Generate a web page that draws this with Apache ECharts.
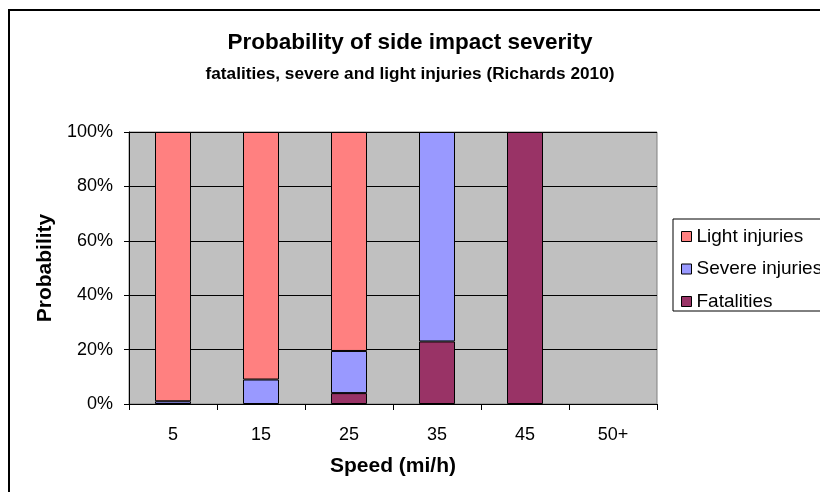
<!DOCTYPE html>
<html><head><meta charset="utf-8">
<script src="https://cdn.jsdelivr.net/npm/echarts@6/dist/echarts.min.js"></script>
<style>html,body{margin:0;padding:0;background:#fff}#c{width:820px;height:492px}</style>
</head><body><div id="c"></div>
<script>
const categories = ['5', '15', '25', '35', '45', '50+'];
const fatalities = [null, null, 4, 23, 100, null];
const severeInjuries = [1, 9, 15.5, 77, null, null];
const lightInjuries = [99, 91, 80.5, null, null, null];
const seriesNames = ['Light injuries', 'Severe injuries', 'Fatalities'];

const FONT = 'Liberation Sans, Arial, sans-serif';
const chart = echarts.init(document.getElementById('c'), null, {renderer: 'canvas'});
const barStyle = c => ({color: c, borderColor: '#000', borderWidth: 1});
chart.setOption({
  animation: false,
  backgroundColor: '#fff',
  textStyle: {fontFamily: FONT, color: '#000'},
  graphic: [{
    type: 'rect', shape: {x: 9, y: 10, width: 900, height: 600},
    style: {fill: 'none', stroke: '#000', lineWidth: 2}, silent: true
  }],
  title: [
    {text: 'Probability of side impact severity', left: 'center', top: 26,
     textStyle: {fontFamily: FONT, fontSize: 22.5, fontWeight: 'bold', color: '#000'}},
    {text: 'fatalities, severe and light injuries (Richards 2010)', left: 'center', top: 61,
     textStyle: {fontFamily: FONT, fontSize: 17.2, fontWeight: 'bold', color: '#000'}}
  ],
  legend: {
    orient: 'vertical', left: 673, top: 219,
    data: seriesNames,
    borderColor: '#000', borderWidth: 1,
    padding: [8, 40, 0, 8],
    itemWidth: 10, itemHeight: 10, itemGap: 13.5,
    icon: 'rect',
    itemStyle: {borderColor: '#000', borderWidth: 1},
    textStyle: {fontFamily: FONT, fontSize: 19, color: '#000', lineHeight: 18}
  },
  grid: {left: 129, right: 163, top: 132, bottom: 88, show: true,
         backgroundColor: '#C0C0C0', borderColor: '#808080', borderWidth: 1},
  xAxis: {
    type: 'category', data: categories,
    name: 'Speed (mi/h)', nameLocation: 'middle', nameGap: 52,
    nameTextStyle: {fontFamily: FONT, fontSize: 21, fontWeight: 'bold', color: '#000'},
    axisLine: {lineStyle: {color: '#000', width: 1}},
    axisTick: {show: true, length: 6, interval: 0, lineStyle: {color: '#000'}},
    axisLabel: {fontFamily: FONT, fontSize: 18, color: '#000', margin: 22, interval: 0}
  },
  yAxis: {
    type: 'value', min: 0, max: 100, interval: 20,
    name: 'Probability', nameLocation: 'middle', nameGap: 73, nameRotate: 90,
    nameTextStyle: {fontFamily: FONT, fontSize: 21, fontWeight: 'bold', color: '#000'},
    axisLine: {show: true, lineStyle: {color: '#000', width: 1}},
    axisTick: {show: true, length: 5, lineStyle: {color: '#000'}},
    axisLabel: {fontFamily: FONT, fontSize: 18, color: '#000', margin: 16, formatter: '{value}%'},
    splitLine: {show: true, lineStyle: {color: '#000', width: 1}}
  },
  series: [
    {name: 'Fatalities', type: 'bar', stack: 's', data: fatalities, barWidth: 36, itemStyle: barStyle('#993366')},
    {name: 'Severe injuries', type: 'bar', stack: 's', data: severeInjuries, barWidth: 36, itemStyle: barStyle('#9999FF')},
    {name: 'Light injuries', type: 'bar', stack: 's', data: lightInjuries, barWidth: 36, itemStyle: barStyle('#FF8080')}
  ]
});
</script></body></html>
